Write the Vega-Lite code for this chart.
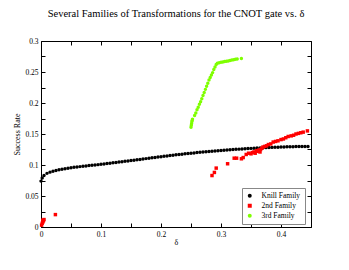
{
  "$schema": "https://vega.github.io/schema/vega-lite/v6.json",
  "width": 270,
  "height": 186,
  "autosize": {"type": "none"},
  "padding": {"left": 41, "top": 41, "right": 38, "bottom": 43},
  "background": "white",
  "title": {"text": "Several Families of Transformations for the CNOT gate vs. δ", "font": "Liberation Serif", "fontSize": 10.5, "fontWeight": "normal", "color": "black", "offset": 18, "anchor": "middle"},
  "config": {
    "view": {"stroke": "black", "strokeWidth": 1},
    "axis": {"labelFont": "Liberation Serif", "labelFontSize": 7.5, "labelColor": "black", "titleFont": "Liberation Serif", "titleFontSize": 8, "titleFontWeight": "normal", "titleColor": "black", "grid": false, "domainColor": "black", "tickColor": "black", "tickWidth": 1, "domain": false}
  },
  "datasets": {
    "pts": [
      {"d":0.000,"r":0.0740,"f":"Knill Family"},{"d":0.002,"r":0.0790,"f":"Knill Family"},{"d":0.005,"r":0.0830,"f":"Knill Family"},{"d":0.010,"r":0.0865,"f":"Knill Family"},{"d":0.015,"r":0.0885,"f":"Knill Family"},{"d":0.020,"r":0.0900,"f":"Knill Family"},{"d":0.025,"r":0.0912,"f":"Knill Family"},{"d":0.030,"r":0.0922,"f":"Knill Family"},{"d":0.035,"r":0.0931,"f":"Knill Family"},{"d":0.040,"r":0.0940,"f":"Knill Family"},{"d":0.045,"r":0.0948,"f":"Knill Family"},{"d":0.050,"r":0.0955,"f":"Knill Family"},{"d":0.055,"r":0.0962,"f":"Knill Family"},{"d":0.060,"r":0.0968,"f":"Knill Family"},{"d":0.065,"r":0.0974,"f":"Knill Family"},{"d":0.070,"r":0.0980,"f":"Knill Family"},{"d":0.075,"r":0.0985,"f":"Knill Family"},{"d":0.080,"r":0.0991,"f":"Knill Family"},{"d":0.085,"r":0.0996,"f":"Knill Family"},{"d":0.090,"r":0.1001,"f":"Knill Family"},{"d":0.095,"r":0.1006,"f":"Knill Family"},{"d":0.100,"r":0.1011,"f":"Knill Family"},{"d":0.105,"r":0.1017,"f":"Knill Family"},{"d":0.110,"r":0.1023,"f":"Knill Family"},{"d":0.115,"r":0.1029,"f":"Knill Family"},{"d":0.120,"r":0.1035,"f":"Knill Family"},{"d":0.125,"r":0.1041,"f":"Knill Family"},{"d":0.130,"r":0.1047,"f":"Knill Family"},{"d":0.135,"r":0.1053,"f":"Knill Family"},{"d":0.140,"r":0.1059,"f":"Knill Family"},{"d":0.145,"r":0.1065,"f":"Knill Family"},{"d":0.150,"r":0.1071,"f":"Knill Family"},{"d":0.155,"r":0.1078,"f":"Knill Family"},{"d":0.160,"r":0.1084,"f":"Knill Family"},{"d":0.165,"r":0.1090,"f":"Knill Family"},{"d":0.170,"r":0.1097,"f":"Knill Family"},{"d":0.175,"r":0.1103,"f":"Knill Family"},{"d":0.180,"r":0.1110,"f":"Knill Family"},{"d":0.185,"r":0.1116,"f":"Knill Family"},{"d":0.190,"r":0.1122,"f":"Knill Family"},{"d":0.195,"r":0.1128,"f":"Knill Family"},{"d":0.200,"r":0.1134,"f":"Knill Family"},{"d":0.205,"r":0.1140,"f":"Knill Family"},{"d":0.210,"r":0.1146,"f":"Knill Family"},{"d":0.215,"r":0.1152,"f":"Knill Family"},{"d":0.220,"r":0.1158,"f":"Knill Family"},{"d":0.225,"r":0.1164,"f":"Knill Family"},{"d":0.230,"r":0.1169,"f":"Knill Family"},{"d":0.235,"r":0.1175,"f":"Knill Family"},{"d":0.240,"r":0.1180,"f":"Knill Family"},{"d":0.245,"r":0.1185,"f":"Knill Family"},{"d":0.250,"r":0.1190,"f":"Knill Family"},{"d":0.255,"r":0.1195,"f":"Knill Family"},{"d":0.260,"r":0.1200,"f":"Knill Family"},{"d":0.265,"r":0.1205,"f":"Knill Family"},{"d":0.270,"r":0.1210,"f":"Knill Family"},{"d":0.275,"r":0.1214,"f":"Knill Family"},{"d":0.280,"r":0.1219,"f":"Knill Family"},{"d":0.285,"r":0.1223,"f":"Knill Family"},{"d":0.290,"r":0.1227,"f":"Knill Family"},{"d":0.295,"r":0.1231,"f":"Knill Family"},{"d":0.300,"r":0.1235,"f":"Knill Family"},{"d":0.305,"r":0.1239,"f":"Knill Family"},{"d":0.310,"r":0.1243,"f":"Knill Family"},{"d":0.315,"r":0.1246,"f":"Knill Family"},{"d":0.320,"r":0.1250,"f":"Knill Family"},{"d":0.325,"r":0.1253,"f":"Knill Family"},{"d":0.330,"r":0.1256,"f":"Knill Family"},{"d":0.335,"r":0.1259,"f":"Knill Family"},{"d":0.340,"r":0.1262,"f":"Knill Family"},{"d":0.345,"r":0.1265,"f":"Knill Family"},{"d":0.350,"r":0.1268,"f":"Knill Family"},{"d":0.355,"r":0.1271,"f":"Knill Family"},{"d":0.360,"r":0.1273,"f":"Knill Family"},{"d":0.365,"r":0.1276,"f":"Knill Family"},{"d":0.370,"r":0.1278,"f":"Knill Family"},{"d":0.375,"r":0.1280,"f":"Knill Family"},{"d":0.380,"r":0.1282,"f":"Knill Family"},{"d":0.385,"r":0.1284,"f":"Knill Family"},{"d":0.390,"r":0.1286,"f":"Knill Family"},{"d":0.395,"r":0.1288,"f":"Knill Family"},{"d":0.400,"r":0.1290,"f":"Knill Family"},{"d":0.405,"r":0.1292,"f":"Knill Family"},{"d":0.410,"r":0.1293,"f":"Knill Family"},{"d":0.415,"r":0.1295,"f":"Knill Family"},{"d":0.420,"r":0.1296,"f":"Knill Family"},{"d":0.425,"r":0.1297,"f":"Knill Family"},{"d":0.430,"r":0.1298,"f":"Knill Family"},{"d":0.435,"r":0.1299,"f":"Knill Family"},{"d":0.440,"r":0.1300,"f":"Knill Family"},{"d":0.445,"r":0.1300,"f":"Knill Family"},
      {"d":0.001,"r":0.003,"f":"2nd Family"},{"d":0.002,"r":0.006,"f":"2nd Family"},{"d":0.003,"r":0.008,"f":"2nd Family"},{"d":0.004,"r":0.010,"f":"2nd Family"},{"d":0.005,"r":0.012,"f":"2nd Family"},{"d":0.003,"r":0.011,"f":"2nd Family"},{"d":0.024,"r":0.020,"f":"2nd Family"},{"d":0.285,"r":0.083,"f":"2nd Family"},{"d":0.289,"r":0.088,"f":"2nd Family"},{"d":0.292,"r":0.095,"f":"2nd Family"},{"d":0.311,"r":0.102,"f":"2nd Family"},{"d":0.322,"r":0.111,"f":"2nd Family"},{"d":0.326,"r":0.111,"f":"2nd Family"},{"d":0.334,"r":0.110,"f":"2nd Family"},{"d":0.337,"r":0.112,"f":"2nd Family"},{"d":0.342,"r":0.117,"f":"2nd Family"},{"d":0.346,"r":0.119,"f":"2nd Family"},{"d":0.350,"r":0.118,"f":"2nd Family"},{"d":0.352,"r":0.120,"f":"2nd Family"},{"d":0.355,"r":0.121,"f":"2nd Family"},{"d":0.357,"r":0.119,"f":"2nd Family"},{"d":0.359,"r":0.123,"f":"2nd Family"},{"d":0.361,"r":0.122,"f":"2nd Family"},{"d":0.363,"r":0.124,"f":"2nd Family"},{"d":0.365,"r":0.121,"f":"2nd Family"},{"d":0.366,"r":0.125,"f":"2nd Family"},{"d":0.368,"r":0.127,"f":"2nd Family"},{"d":0.370,"r":0.129,"f":"2nd Family"},{"d":0.373,"r":0.130,"f":"2nd Family"},{"d":0.376,"r":0.131,"f":"2nd Family"},{"d":0.379,"r":0.133,"f":"2nd Family"},{"d":0.383,"r":0.134,"f":"2nd Family"},{"d":0.387,"r":0.137,"f":"2nd Family"},{"d":0.391,"r":0.138,"f":"2nd Family"},{"d":0.395,"r":0.139,"f":"2nd Family"},{"d":0.400,"r":0.141,"f":"2nd Family"},{"d":0.404,"r":0.142,"f":"2nd Family"},{"d":0.408,"r":0.144,"f":"2nd Family"},{"d":0.412,"r":0.146,"f":"2nd Family"},{"d":0.417,"r":0.147,"f":"2nd Family"},{"d":0.421,"r":0.148,"f":"2nd Family"},{"d":0.425,"r":0.150,"f":"2nd Family"},{"d":0.429,"r":0.151,"f":"2nd Family"},{"d":0.433,"r":0.152,"f":"2nd Family"},{"d":0.437,"r":0.153,"f":"2nd Family"},{"d":0.444,"r":0.155,"f":"2nd Family"},
      {"d":0.2500,"r":0.161,"f":"3rd Family"},{"d":0.2505,"r":0.164,"f":"3rd Family"},{"d":0.2510,"r":0.167,"f":"3rd Family"},{"d":0.2515,"r":0.170,"f":"3rd Family"},{"d":0.2520,"r":0.172,"f":"3rd Family"},{"d":0.2525,"r":0.174,"f":"3rd Family"},{"d":0.256,"r":0.180,"f":"3rd Family"},{"d":0.258,"r":0.184,"f":"3rd Family"},{"d":0.260,"r":0.189,"f":"3rd Family"},{"d":0.262,"r":0.193,"f":"3rd Family"},{"d":0.264,"r":0.198,"f":"3rd Family"},{"d":0.266,"r":0.202,"f":"3rd Family"},{"d":0.268,"r":0.207,"f":"3rd Family"},{"d":0.270,"r":0.212,"f":"3rd Family"},{"d":0.272,"r":0.217,"f":"3rd Family"},{"d":0.274,"r":0.222,"f":"3rd Family"},{"d":0.276,"r":0.227,"f":"3rd Family"},{"d":0.278,"r":0.232,"f":"3rd Family"},{"d":0.280,"r":0.237,"f":"3rd Family"},{"d":0.282,"r":0.241,"f":"3rd Family"},{"d":0.284,"r":0.245,"f":"3rd Family"},{"d":0.286,"r":0.249,"f":"3rd Family"},{"d":0.288,"r":0.254,"f":"3rd Family"},{"d":0.290,"r":0.258,"f":"3rd Family"},{"d":0.292,"r":0.262,"f":"3rd Family"},{"d":0.294,"r":0.264,"f":"3rd Family"},{"d":0.297,"r":0.265,"f":"3rd Family"},{"d":0.300,"r":0.2656,"f":"3rd Family"},{"d":0.303,"r":0.2663,"f":"3rd Family"},{"d":0.306,"r":0.2668,"f":"3rd Family"},{"d":0.309,"r":0.2673,"f":"3rd Family"},{"d":0.312,"r":0.2678,"f":"3rd Family"},{"d":0.315,"r":0.2685,"f":"3rd Family"},{"d":0.318,"r":0.2692,"f":"3rd Family"},{"d":0.321,"r":0.2699,"f":"3rd Family"},{"d":0.324,"r":0.2705,"f":"3rd Family"},{"d":0.327,"r":0.2710,"f":"3rd Family"},{"d":0.334,"r":0.2718,"f":"3rd Family"}
    ]
  },
  "data": {"name": "pts"},
  "resolve": {"axis": {"x": "independent", "y": "independent"}},
  "layer": [
    {
      "mark": {"type": "point", "filled": true, "opacity": 1, "size": 12},
      "encoding": {
        "x": {"field": "d", "type": "quantitative", "scale": {"domain": [0, 0.45], "nice": false, "zero": false},
          "axis": {"orient": "bottom", "title": "δ", "titlePadding": 1, "values": [0,0.05,0.1,0.15,0.2,0.25,0.3,0.35,0.4,0.45],
            "labelExpr": "round(datum.value*20)%2==0 ? format(datum.value,'~g') : ''",
            "tickSize": -4, "labelPadding": 7, "labelFlush": false}},
        "y": {"field": "r", "type": "quantitative", "scale": {"domain": [0, 0.3], "nice": false},
          "axis": {"orient": "left", "title": "Success Rate", "titlePadding": 3, "values": [0,0.025,0.05,0.075,0.1,0.125,0.15,0.175,0.2,0.225,0.25,0.275,0.3],
            "labelExpr": "round(datum.value*40)%2==0 ? format(datum.value,'~g') : ''",
            "tickSize": -4, "labelPadding": 7, "labelFlush": false}},
        "color": {"field": "f", "type": "nominal", "sort": null,
          "scale": {"domain": ["Knill Family", "2nd Family", "3rd Family"], "range": ["#000000", "#ff0000", "#7fff00"]},
          "legend": {"orient": "none", "legendX": 201, "legendY": 147, "title": null, "strokeColor": "#888888", "fillColor": "white", "padding": 4, "labelFont": "Liberation Serif", "labelFontSize": 7.5, "labelColor": "black", "symbolSize": 16, "rowPadding": 1, "labelOffset": 8}},
        "shape": {"field": "f", "type": "nominal",
          "scale": {"domain": ["Knill Family", "2nd Family", "3rd Family"], "range": ["circle", "square", "circle"]},
          "legend": null}
      }
    },
    {
      "mark": {"type": "point", "opacity": 0},
      "encoding": {
        "x": {"field": "d", "type": "quantitative",
          "axis": {"orient": "top", "title": null, "labels": false, "values": [0,0.05,0.1,0.15,0.2,0.25,0.3,0.35,0.4,0.45], "tickSize": -4}},
        "y": {"field": "r", "type": "quantitative",
          "axis": {"orient": "right", "title": null, "labels": false, "values": [0,0.025,0.05,0.075,0.1,0.125,0.15,0.175,0.2,0.225,0.25,0.275,0.3], "tickSize": -4}}
      }
    }
  ]
}
